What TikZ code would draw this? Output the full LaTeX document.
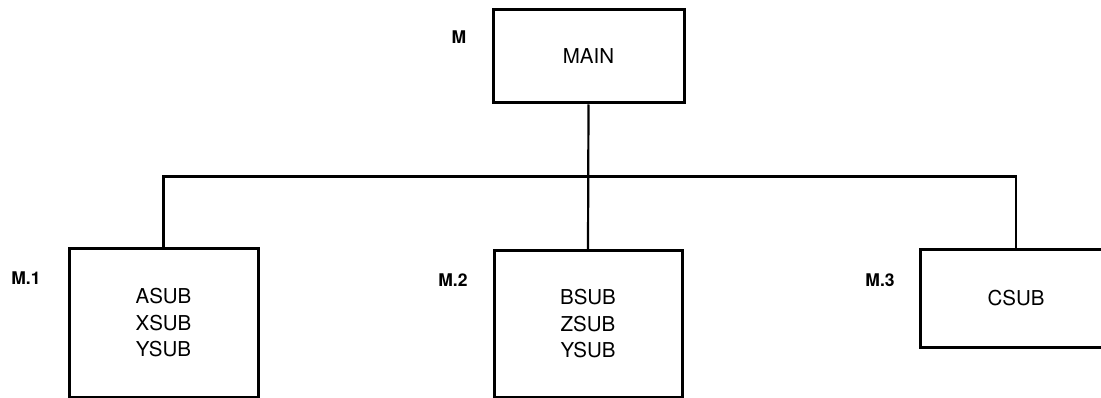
\documentclass[tikz,border=0pt]{standalone}
\usepackage{fontspec}
\setmainfont{TeX Gyre Heros}
\usetikzlibrary{positioning,calc}

\tikzset{
  modbox/.style={draw, line width=3pt, inner sep=0pt, align=center,
    font=\fontsize{20.5}{26.5}\selectfont},
  modlabel/.style={font=\fontsize{17.5}{19}\selectfont\bfseries, inner sep=0pt},
  link/.style={line width=2.2pt}
}

\begin{document}
\begin{tikzpicture}[x=1pt, y=-1pt]
  \useasboundingbox (0,0) rectangle (1101,398);
  \clip (0,0) rectangle (1101,398);
  % Main program
  \node[modbox, minimum width=191pt, minimum height=93pt] (main) at (588.5,56.5) {MAIN};
  \node[modlabel] (mlbl) at (459,37) {M};
  % Subprogram groups
  \node[modbox, minimum width=189pt, minimum height=148pt] (sub1) at (163.5,323) {ASUB\\XSUB\\YSUB};
  \node[modbox, minimum width=188pt, minimum height=146pt] (sub2) at (588,324) {BSUB\\ZSUB\\YSUB};
  \node[modbox, minimum width=192pt, minimum height=97pt] (sub3) at (1016,298.5) {CSUB};
  \node[modlabel] (lbl1) at (26,278) {M.1};
  \node[modlabel] (lbl2) at (453,280) {M.2};
  \node[modlabel] (lbl3) at (880,280) {M.3};
  % Connectors
  \coordinate (bus) at ($(main.south)+(0,72)$);
  \draw[link] (main.south) -- (sub2.north);
  \draw[link] (sub1.north) |- (bus) -| (sub3.north);
\end{tikzpicture}
\end{document}
